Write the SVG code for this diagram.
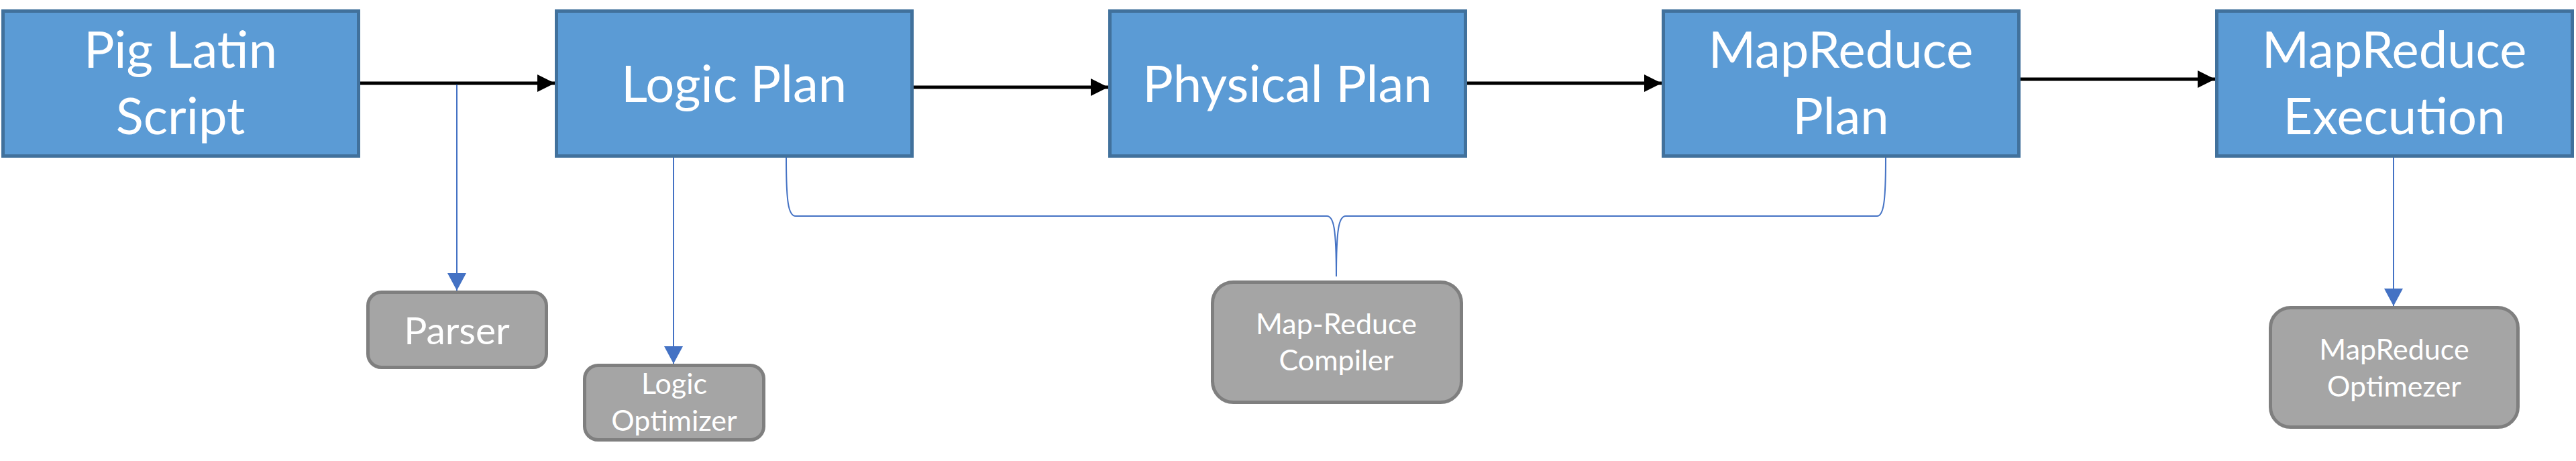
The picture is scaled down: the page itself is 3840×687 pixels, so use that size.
<svg xmlns="http://www.w3.org/2000/svg" width="3840" height="687" viewBox="0 0 3840 687">
<style>
.main{fill:#5B9BD5;stroke:#41719C;stroke-width:5}
.sub{fill:#A5A5A5;stroke:#7F7F7F;stroke-width:5}
.mt{font-family:Lato,"Open Sans",sans-serif;font-size:76px;fill:#FFFFFF;text-anchor:middle}
.st{font-family:Lato,"Open Sans",sans-serif;font-size:43px;fill:#FFFFFF;text-anchor:middle}
.blk{stroke:#000;stroke-width:5;fill:none}
.blu{stroke:#4472C4;stroke-width:2;fill:none}
</style>
<defs>
<marker id="ah" markerUnits="userSpaceOnUse" markerWidth="26" markerHeight="26" refX="26" refY="13" orient="auto">
<path d="M0,0 L26,13 L0,26 Z" fill="#000"/>
</marker>
<marker id="bh" markerUnits="userSpaceOnUse" markerWidth="26" markerHeight="28" refX="26" refY="14" orient="auto">
<path d="M0,0 L26,14 L0,28 Z" fill="#4472C4"/>
</marker>
</defs>
<rect width="3840" height="687" fill="#FFFFFF"/>
<g id="connectors">
<line class="blk" x1="537" y1="124" x2="827" y2="124" marker-end="url(#ah)"/>
<line class="blk" x1="1362" y1="130" x2="1652" y2="130" marker-end="url(#ah)"/>
<line class="blk" x1="2187" y1="124" x2="2477" y2="124" marker-end="url(#ah)"/>
<line class="blk" x1="3012" y1="118" x2="3302" y2="118" marker-end="url(#ah)"/>
<line class="blu" x1="681" y1="126" x2="681" y2="433" marker-end="url(#bh)"/>
<line class="blu" x1="1004" y1="235" x2="1004" y2="542" marker-end="url(#bh)"/>
<line class="blu" x1="3568" y1="235" x2="3568" y2="456" marker-end="url(#bh)"/>
<path class="blu" d="M1172,235 C1172,300 1175,322 1186,322 L1978,322 C1988,322 1992,340 1992,412 C1992,340 1996,322 2006,322 L2798,322 C2808,322 2811,300 2811,235"/>
</g>
<g id="pig">
<rect class="main" x="4.5" y="16.5" width="530" height="216"/>
<text class="mt" x="269" y="101">Pig Latin</text>
<text class="mt" x="269" y="200">Script</text>
</g>
<g id="logic">
<rect class="main" x="829.5" y="16.5" width="530" height="216"/>
<text class="mt" x="1094" y="152">Logic Plan</text>
</g>
<g id="physical">
<rect class="main" x="1654.5" y="16.5" width="530" height="216"/>
<text class="mt" x="1919" y="152">Physical Plan</text>
</g>
<g id="mrplan">
<rect class="main" x="2479.5" y="16.5" width="530" height="216"/>
<text class="mt" x="2744" y="101">MapReduce</text>
<text class="mt" x="2744" y="200">Plan</text>
</g>
<g id="mrexec">
<rect class="main" x="3304.5" y="16.5" width="530" height="216"/>
<text class="mt" x="3569" y="101">MapReduce</text>
<text class="mt" x="3569" y="200">Execution</text>
</g>
<g id="parser">
<rect class="sub" x="548.5" y="435.5" width="266" height="112" rx="20"/>
<text class="st" x="681" y="513" style="font-size:57px">Parser</text>
</g>
<g id="logicopt">
<rect class="sub" x="871.5" y="544.5" width="267" height="111" rx="20"/>
<text class="st" x="1005" y="587">Logic</text>
<text class="st" x="1005" y="642">Optimizer</text>
</g>
<g id="compiler">
<rect class="sub" x="1807.5" y="420.5" width="371" height="179" rx="31"/>
<text class="st" x="1992" y="498">Map-Reduce</text>
<text class="st" x="1992" y="552">Compiler</text>
</g>
<g id="mropt">
<rect class="sub" x="3384.5" y="458.5" width="369" height="178" rx="30"/>
<text class="st" x="3569" y="536">MapReduce</text>
<text class="st" x="3569" y="591">Optimezer</text>
</g>
</svg>
